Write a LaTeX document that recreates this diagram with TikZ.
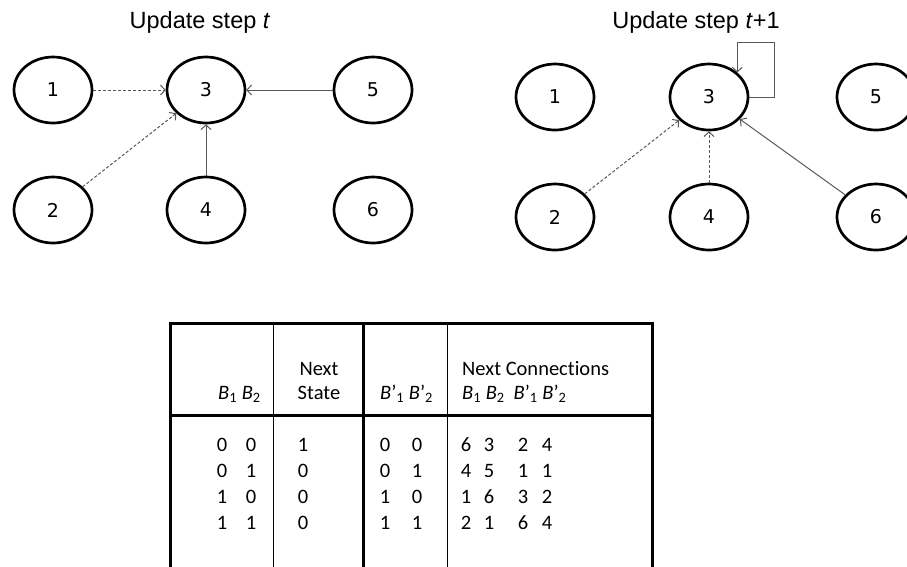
\documentclass[tikz,border=0pt]{standalone}
\usepackage{fontspec}
\setmainfont{Liberation Sans}
\newfontfamily\tabfont[Ligatures=NoCommon]{Carlito}
\newfontfamily\numfont{DejaVu Sans}
\usetikzlibrary{shapes.geometric,arrows.meta}

\begin{document}
\begin{tikzpicture}
  [x=1pt,y=-1pt,>={Straight Barb[length=4.5pt,width=10pt]},
   state/.style={ellipse,draw,line width=2.7pt,minimum width=78pt,minimum height=66pt,
                 inner sep=0pt,font=\numfont\fontsize{19}{22}\selectfont},
   link/.style={->,draw=black!65,line width=1pt},
   weak/.style={link,dash pattern=on 3pt off 2pt},
   title/.style={font=\fontsize{23.5}{27}\selectfont},
   cell/.style={font=\tabfont\fontsize{20.5}{24}\selectfont,inner sep=0pt},
   thick rule/.style={line width=3pt},
   thin rule/.style={line width=0.9pt}]

  \useasboundingbox (0,0) rectangle (907,566);
  \clip (0,0) rectangle (907,566);

  % update step t
  \node[title] (tl) at (200,22) {Update step \textit{t}};
  \node[state] (a1) at (53,90)   {1};
  \node[state] (a3) at (206,90)  {3};
  \node[state] (a5) at (373,90)  {5};
  \node[state] (a2) at (53,210)  {2};
  \node[state] (a4) at (206,210) {4};
  \node[state] (a6) at (373,210) {6};

  \foreach \from/\to in {a1/a3,a2/a3}
    \draw[weak] (\from) -- (\to);
  \foreach \from/\to in {a5/a3,a4/a3}
    \draw[link] (\from) -- (\to);

  % update step t+1
  \node[title] (tr) at (696,22) {Update step \textit{t}+1};
  \node[state] (b1) at (555,97)  {1};
  \node[state] (b3) at (709,97)  {3};
  \node[state] (b5) at (876,97)  {5};
  \node[state] (b2) at (555,217) {2};
  \node[state] (b4) at (709,217) {4};
  \node[state] (b6) at (876,217) {6};

  \foreach \from/\to in {b2/b3,b4/b3}
    \draw[weak] (\from) -- (\to);
  \draw[link] (b6) -- (b3);
  \coordinate (lp) at (774,42);
  \draw[link] (b3.east) -| (lp) -| (b3.41);

  % table
  \draw[thick rule] (170,570) |- (652,323) -- (652,570);
  \draw[thick rule] (170,415) -- (652,415);
  \draw[thick rule] (363,323) -- (363,570);
  \foreach \x in {273,447}
    \draw[thin rule] (\x,323) -- (\x,570);

  \node[cell,anchor=base west] (h1) at (218,399)
    {\textit{B}\textsubscript{1} \textit{B}\textsubscript{2}};
  \node[cell,anchor=base] (h2) at (319,375) {Next};
  \node[cell,anchor=base] (h3) at (319,399) {State};
  \node[cell,anchor=base west] (h4) at (380,399)
    {\textit{B}’\textsubscript{1} \textit{B}’\textsubscript{2}};
  \node[cell,anchor=base west] (h5) at (462,375) {Next Connections};
  \node[cell,anchor=base west] (h6) at (462,399)
    {\textit{B}\textsubscript{1} \textit{B}\textsubscript{2}\hspace{9pt}\textit{B}’\textsubscript{1} \textit{B}’\textsubscript{2}};

  \foreach \yy/\a/\b/\s/\c/\d/\p/\q/\r/\t [count=\i] in
    {451/0/0/1/0/0/6/3/2/4,477/0/1/0/0/1/4/5/1/1,503/1/0/0/1/0/1/6/3/2,529/1/1/0/1/1/2/1/6/4}
  {
    \node[cell,anchor=base] (a\i) at (222,\yy) {\a};
    \node[cell,anchor=base] (b\i) at (251,\yy) {\b};
    \node[cell,anchor=base] (s\i) at (303,\yy) {\s};
    \node[cell,anchor=base] (c\i) at (385,\yy) {\c};
    \node[cell,anchor=base] (d\i) at (417,\yy) {\d};
    \node[cell,anchor=base] (p\i) at (466,\yy) {\p};
    \node[cell,anchor=base] (q\i) at (489,\yy) {\q};
    \node[cell,anchor=base] (r\i) at (523,\yy) {\r};
    \node[cell,anchor=base] (t\i) at (547,\yy) {\t};
  }

\end{tikzpicture}
\end{document}
